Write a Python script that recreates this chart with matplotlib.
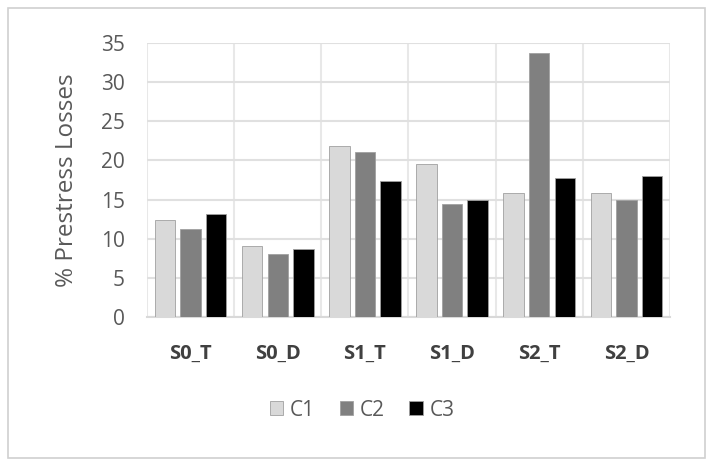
import matplotlib
matplotlib.use("Agg")
import matplotlib.pyplot as plt
import numpy as np
from matplotlib.patches import Rectangle

categories = ["S0_T", "S0_D", "S1_T", "S1_D", "S2_T", "S2_D"]
c1 = [12.4, 9.1, 21.8, 19.6, 15.9, 15.9]
c2 = [11.3, 8.1, 21.1, 14.4, 33.7, 15.0]
c3 = [13.2, 8.7, 17.4, 15.0, 17.8, 18.0]
series_names = ["C1", "C2", "C3"]
colors = ["#d9d9d9", "#808080", "#000000"]

plt.rcParams['font.family'] = ['Open Sans', 'DejaVu Sans']

fig = plt.figure(figsize=(7.13, 4.67), dpi=100)
ax = fig.add_axes([147/713, 1 - 317/467, (670-147)/713, (317-43)/467])

x = np.arange(len(categories))
w = 0.235
pitch = 0.293
for i, (vals, col, name) in enumerate(zip([c1, c2, c3], colors, series_names)):
    ax.bar(x + (i - 1) * pitch, vals, width=w, color=col, edgecolor="#a0a0a0",
           linewidth=0.6, label=name, zorder=3)

ax.set_xlim(-0.5, len(categories) - 0.5)
ax.set_ylim(0, 35)
ax.set_yticks(range(0, 36, 5))
ax.set_xticks(x)
ax.set_xticklabels(categories, fontweight="bold", fontsize=14.5, color="#404040")
ax.tick_params(axis="y", labelsize=15, labelcolor="#595959", length=0, pad=16)
ax.tick_params(axis="x", length=0, pad=19)

ax.set_xticks(np.arange(-0.5, len(categories), 0.5), minor=True)
ax.tick_params(axis="x", which="minor", length=0)
ax.grid(True, axis="y", color="#e0e0e0", linewidth=1.5, zorder=0)
ax.grid(True, axis="x", which="minor", color="#e8e8e8", linewidth=1.5, zorder=0)
ax.grid(False, axis="x", which="major")
for s in ["top", "right", "left"]:
    ax.spines[s].set_visible(False)
ax.spines["bottom"].set_color("#d9d9d9")
ax.spines["bottom"].set_linewidth(1.5)

ax.set_ylabel("% Prestress Losses", fontsize=17.5, color="#595959")
ax.yaxis.set_label_coords((79 - 147) / (670 - 147), 0.5)

leg = fig.legend(loc="center", bbox_to_anchor=(362/713, 1 - 410/467), ncol=3,
                 frameon=False, fontsize=15, handlelength=0.65, handleheight=0.65,
                 handletextpad=0.3, columnspacing=1.2)
for t in leg.get_texts():
    t.set_color("#595959")

fig.patches.append(Rectangle((8/713, 1 - 458/467), (705-8)/713, (458-8)/467,
                             transform=fig.transFigure, fill=False,
                             edgecolor="#d0d0d0", linewidth=1.2))

fig.savefig("out.png", dpi=100)
